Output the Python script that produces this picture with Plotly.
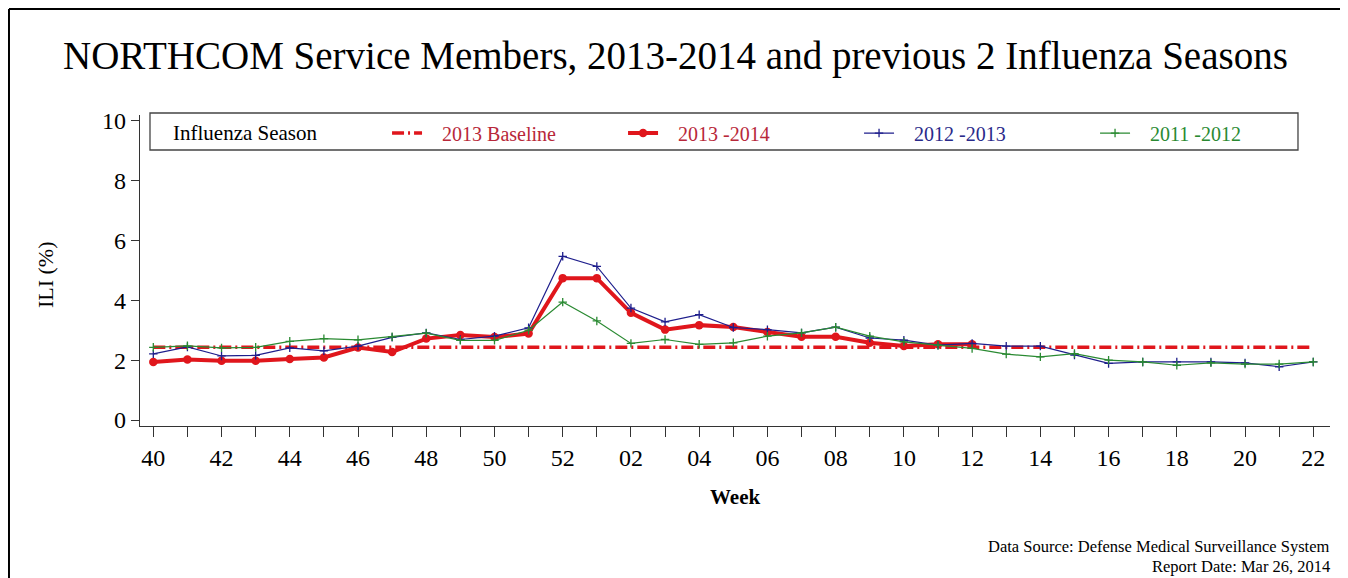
import plotly.graph_objects as go

# weeks of the season, 2013 wk 40 .. 2014 wk 22
weeks = ["40", "41", "42", "43", "44", "45", "46", "47", "48", "49", "50", "51", "52",
         "01", "02", "03", "04", "05", "06", "07", "08", "09", "10", "11", "12",
         "13", "14", "15", "16", "17", "18", "19", "20", "21", "22"]

baseline_value = 2.43

ili_2013_2014 = [1.94, 2.02, 1.98, 1.98, 2.04, 2.09, 2.42, 2.27, 2.72, 2.84, 2.77, 2.89, 4.74,
                 4.74, 3.58, 3.02, 3.17, 3.11, 2.94, 2.78, 2.78, 2.58, 2.47, 2.53, 2.53]

ili_2012_2013 = [2.21, 2.44, 2.14, 2.16, 2.41, 2.31, 2.47, 2.76, 2.91, 2.69, 2.80, 3.08, 5.47,
                 5.13, 3.74, 3.28, 3.52, 3.09, 3.02, 2.91, 3.10, 2.74, 2.67, 2.50, 2.56,
                 2.47, 2.47, 2.17, 1.89, 1.94, 1.94, 1.94, 1.91, 1.78, 1.94]

ili_2011_2012 = [2.43, 2.48, 2.41, 2.43, 2.63, 2.72, 2.68, 2.78, 2.90, 2.66, 2.66, 3.00, 3.94,
                 3.31, 2.56, 2.69, 2.53, 2.58, 2.80, 2.91, 3.10, 2.80, 2.61, 2.50, 2.39,
                 2.20, 2.11, 2.22, 2.00, 1.94, 1.83, 1.91, 1.87, 1.87, 1.94]

tick_text = [w if i % 2 == 0 else "" for i, w in enumerate(weeks)]

RED = "#e0161c"
BLUE = "#1e1e8c"
GREEN = "#2a8a32"
SERIF = "Liberation Serif"
PAD = "&nbsp;&nbsp;&nbsp;"

fig = go.Figure()

fig.add_trace(go.Scatter(
    x=weeks, y=[baseline_value] * len(weeks), mode="lines",
    name=PAD + "<span style='color:#b8283a'>2013 Baseline</span>",
    line=dict(color=RED, width=3.5, dash="12px,4px,2px,4px"),
))
fig.add_trace(go.Scatter(
    x=weeks[:len(ili_2013_2014)], y=ili_2013_2014, mode="lines+markers",
    name=PAD + "<span style='color:#b8283a'>2013 -2014</span>",
    line=dict(color=RED, width=4), marker=dict(size=8.5, color=RED),
))
fig.add_trace(go.Scatter(
    x=weeks, y=ili_2012_2013, mode="lines+markers",
    name=PAD + "<span style='color:#2a2a8a'>2012 -2013</span>",
    line=dict(color=BLUE, width=1.2),
    marker=dict(symbol="cross-thin", size=6, line=dict(width=1.3, color=BLUE)),
))
fig.add_trace(go.Scatter(
    x=weeks, y=ili_2011_2012, mode="lines+markers",
    name=PAD + "<span style='color:#2a8a32'>2011 -2012</span>",
    line=dict(color=GREEN, width=1.2),
    marker=dict(symbol="cross-thin", size=6, line=dict(width=1.3, color=GREEN)),
))

# page has an 8px body margin, so the figure is 8px smaller than the window
fig.update_layout(
    width=1340, height=570,
    margin=dict(l=132, r=18, t=107, b=152),
    paper_bgcolor="white", plot_bgcolor="white",
    font=dict(family=SERIF, color="black"),
    showlegend=True,
    legend=dict(
        orientation="h", x=0.2076, xanchor="left", y=0.942, yanchor="middle",
        font=dict(size=20, family=SERIF), itemwidth=30, entrywidth=191,
        bgcolor="rgba(0,0,0,0)", borderwidth=0, traceorder="normal",
    ),
)

fig.update_xaxes(
    type="category", range=[-0.39, 34.49],
    tickmode="array", tickvals=weeks, ticktext=tick_text,
    showline=True, linecolor="#333", linewidth=1.3,
    ticks="outside", ticklen=10, tickcolor="#333", tickwidth=1.3,
    tickfont=dict(size=24, family=SERIF), showgrid=False, zeroline=False,
)
fig.update_yaxes(
    range=[-0.2, 10.19], tickvals=[0, 2, 4, 6, 8, 10],
    showline=True, linecolor="#333", linewidth=1.3,
    ticks="outside", ticklen=8, tickcolor="#333", tickwidth=1.3,
    tickfont=dict(size=24, family=SERIF), showgrid=False, zeroline=False,
)

# legend frame, outer frame
shapes = [
    dict(type="rect", xref="paper", yref="paper", x0=0.0084, x1=0.9731, y0=0.8875, y1=1.0064,
         line=dict(color="#444", width=1.3)),
    dict(type="line", xref="paper", yref="paper", x0=-0.1101, x1=1.0101, y0=1.3408, y1=1.3408,
         line=dict(color="black", width=2)),
    dict(type="line", xref="paper", yref="paper", x0=-0.1101, x1=-0.1101, y0=1.3408, y1=-0.6,
         line=dict(color="black", width=2)),
    dict(type="line", xref="paper", yref="paper", x0=1.0101, x1=1.0101, y0=1.3408, y1=-0.6,
         line=dict(color="#cccccc", width=1)),
]
fig.update_layout(shapes=shapes)

annotations = [
    dict(text="NORTHCOM Service Members, 2013-2014 and previous 2 Influenza Seasons",
         x=0.4496, y=1.19, xanchor="center", yanchor="middle", font=dict(size=39)),
    dict(text="Influenza Season", x=0.026, y=0.942, xanchor="left", yanchor="middle",
         font=dict(size=21)),
    dict(text="<b>Week</b>", x=0.5, y=-0.228, xanchor="center", yanchor="middle",
         font=dict(size=21)),
    dict(text="ILI (%)", x=-0.0798, y=0.4855, xanchor="center", yanchor="middle",
         textangle=-90, font=dict(size=22)),
    dict(text="Data Source: Defense Medical Surveillance System", x=1.0017, y=-0.386,
         xanchor="right", yanchor="middle", font=dict(size=16.5)),
    dict(text="Report Date: Mar 26, 2014", x=1.0017, y=-0.452,
         xanchor="right", yanchor="middle", font=dict(size=16.5)),
]
for a in annotations:
    a.update(xref="paper", yref="paper", showarrow=False)
fig.update_layout(annotations=annotations)

fig.write_html("out.html")
